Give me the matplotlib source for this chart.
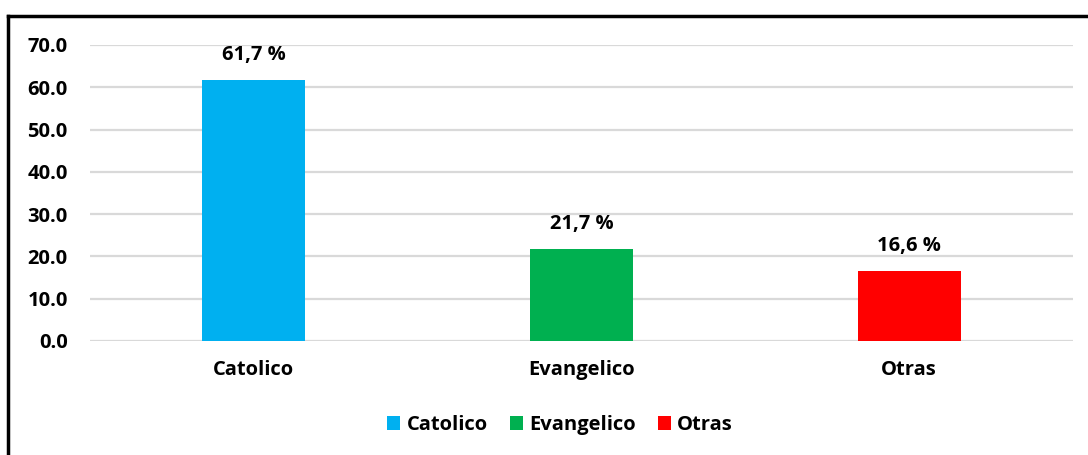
import matplotlib
matplotlib.use("Agg")
import matplotlib.pyplot as plt
from matplotlib.lines import Line2D
from matplotlib.patches import Patch

categories = ["Catolico", "Evangelico", "Otras"]
values = [61.7, 21.7, 16.6]
labels = ["61,7 %", "21,7 %", "16,6 %"]
colors = ["#00B0F0", "#00B050", "#FF0000"]
yticks = [0, 10, 20, 30, 40, 50, 60, 70]

plt.rcParams['font.family'] = ['Open Sans', 'DejaVu Sans']
plt.rcParams['font.weight'] = 'bold'
FS = 14.5

fig = plt.figure(figsize=(10.88, 4.55), dpi=100)
ax = fig.add_axes([90/1088, 1-341/455, (1073-90)/1088, (341-45)/455])

x = list(range(len(categories)))
bars = ax.bar(x, values, width=0.315, color=colors, zorder=3)
for b, lab in zip(bars, labels):
    ax.annotate(lab, (b.get_x() + b.get_width()/2, b.get_height()),
                xytext=(0, 11), textcoords="offset points",
                ha="center", va="bottom", fontsize=FS, fontweight="bold")

ax.set_xlim(-0.5, 2.5)
ax.set_ylim(0, 70)
ax.set_yticks(yticks)
ax.set_yticklabels([f"{v:.1f}" for v in yticks], fontsize=FS, fontweight="bold")
ax.set_xticks(x)
ax.set_xticklabels(categories, fontsize=FS, fontweight="bold")
ax.tick_params(axis="both", length=0)
ax.tick_params(axis="y", pad=16)
ax.tick_params(axis="x", pad=14)
ax.grid(axis="y", color="#D9D9D9", linewidth=1.6, zorder=0)
for s in ax.spines.values():
    s.set_visible(False)

handles = [Patch(facecolor=c, edgecolor="none") for c in colors]
fig.legend(handles, categories, loc="center", bbox_to_anchor=(560/1088, 1-425/455),
           ncol=3, frameon=False, handlelength=0.65, handleheight=0.65,
           handletextpad=0.3, columnspacing=1.1, prop={'weight': 'bold', 'size': FS})

fig.add_artist(Line2D([8/1088, 8/1088], [0, 1-16/455], color="black", lw=2.5, transform=fig.transFigure))
fig.add_artist(Line2D([8/1088, 1], [1-16/455, 1-16/455], color="black", lw=2.5, transform=fig.transFigure))

fig.savefig("out.png", dpi=100)
